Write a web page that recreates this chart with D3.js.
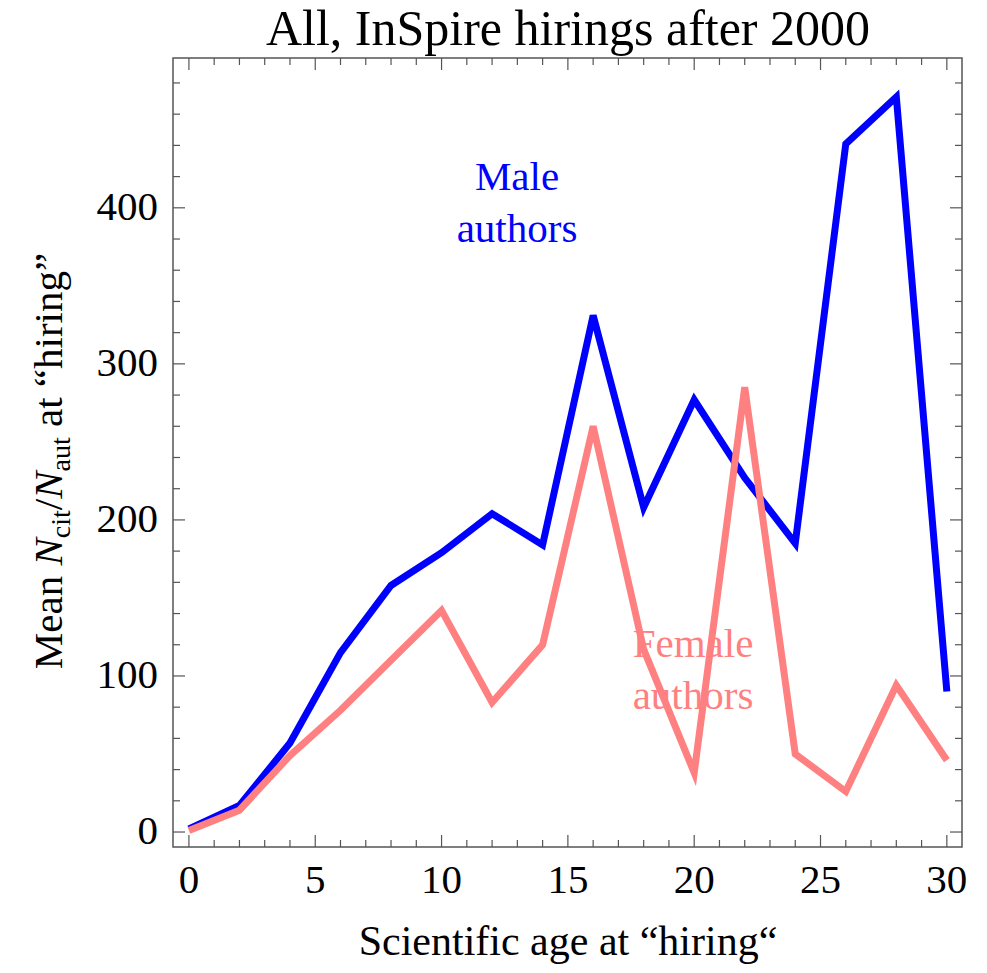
<!DOCTYPE html>
<html><head><meta charset="utf-8">
<script src="https://cdn.jsdelivr.net/npm/d3@7"></script>
<style>body{margin:0;background:#fff}</style>
</head><body>
<script>
const ages = [0,2,4,6,8,10,12,14,16,18,20,22,24,26,28,30];
const maleValues = [2,17,57,115,158,179,204,184,331,208,277,227,185,441,471,90];
const femaleValues = [1,14,49,78,110,142,83,120,260,117,38,285,50,26,94,46];
const xTickLabels = [0,5,10,15,20,25,30];
const yTickLabels = [0,100,200,300,400];

const W = 987, H = 973;
const L = 173, R = 962, T = 58, B = 847;
const svg = d3.select("body").append("svg").attr("width", W).attr("height", H);
const x = d3.scaleLinear().domain([-0.63, 30.6]).range([L, R]);
const y = d3.scaleLinear().domain([-9.6, 496]).range([B, T]);
const font = "'Liberation Serif','Times New Roman',serif";
const axisColor = "#555";

// frame
svg.append("rect").attr("x", L).attr("y", T).attr("width", R - L).attr("height", B - T)
  .attr("fill", "none").attr("stroke", axisColor).attr("stroke-width", 1.5);

// ticks
const xMinor = d3.range(0, 31, 1);
xMinor.forEach(v => {
  const major = v % 5 === 0;
  const len = major ? 12 : 7;
  svg.append("line").attr("x1", x(v)).attr("x2", x(v)).attr("y1", B).attr("y2", B - len).attr("stroke", axisColor).attr("stroke-width", 1.2);
  svg.append("line").attr("x1", x(v)).attr("x2", x(v)).attr("y1", T).attr("y2", T + len).attr("stroke", axisColor).attr("stroke-width", 1.2);
});
const yMinor = d3.range(0, 481, 20);
yMinor.forEach(v => {
  const major = v % 100 === 0;
  const len = major ? 12 : 7;
  svg.append("line").attr("y1", y(v)).attr("y2", y(v)).attr("x1", L).attr("x2", L + len).attr("stroke", axisColor).attr("stroke-width", 1.2);
  svg.append("line").attr("y1", y(v)).attr("y2", y(v)).attr("x1", R).attr("x2", R - len).attr("stroke", axisColor).attr("stroke-width", 1.2);
});

// tick labels
svg.selectAll(".xl").data(xTickLabels).enter().append("text")
  .attr("x", d => x(d)).attr("y", 893).attr("text-anchor", "middle")
  .attr("font-family", font).attr("font-size", 41).text(d => d);
svg.selectAll(".yl").data(yTickLabels).enter().append("text")
  .attr("x", 158).attr("y", d => y(d) + 12).attr("text-anchor", "end")
  .attr("font-family", font).attr("font-size", 41).text(d => d);

// lines
const line = d3.line().x((d, i) => x(ages[i])).y(d => y(d));
svg.append("path").datum(maleValues).attr("d", line).attr("fill", "none")
  .attr("stroke", "#0000ff").attr("stroke-width", 7).attr("stroke-linejoin", "miter");
svg.append("path").datum(femaleValues).attr("d", line).attr("fill", "none")
  .attr("stroke", "#ff8080").attr("stroke-width", 7).attr("stroke-linejoin", "miter");

// annotations
const male = svg.append("text").attr("font-family", font).attr("font-size", 41).attr("fill", "#0000ff").attr("text-anchor", "middle");
male.append("tspan").attr("x", 517).attr("y", 190).text("Male");
male.append("tspan").attr("x", 517).attr("y", 242).text("authors");
const fem = svg.append("text").attr("font-family", font).attr("font-size", 41).attr("fill", "#ff8080").attr("text-anchor", "middle");
fem.append("tspan").attr("x", 693).attr("y", 657).text("Female");
fem.append("tspan").attr("x", 693).attr("y", 709).text("authors");

// title
svg.append("text").attr("x", 568).attr("y", 45).attr("text-anchor", "middle")
  .attr("font-family", font).attr("font-size", 50).text("All, InSpire hirings after 2000");

// x label
svg.append("text").attr("x", 568).attr("y", 955).attr("text-anchor", "middle")
  .attr("font-family", font).attr("font-size", 42).text("Scientific age at \u201Chiring\u201C");

// y label
const yl = svg.append("text").attr("transform", "translate(62,461) rotate(-90)").attr("text-anchor", "middle")
  .attr("font-family", font).attr("font-size", 41);
yl.append("tspan").text("Mean ");
yl.append("tspan").attr("font-style", "italic").text("N");
yl.append("tspan").attr("font-size", 28).attr("dy", 8).text("cit");
yl.append("tspan").attr("dy", -8).text("/");
yl.append("tspan").attr("font-style", "italic").text("N");
yl.append("tspan").attr("font-size", 28).attr("dy", 8).text("aut");
yl.append("tspan").attr("dy", -8).text(" at \u201Chiring\u201D");
</script>
</body></html>
